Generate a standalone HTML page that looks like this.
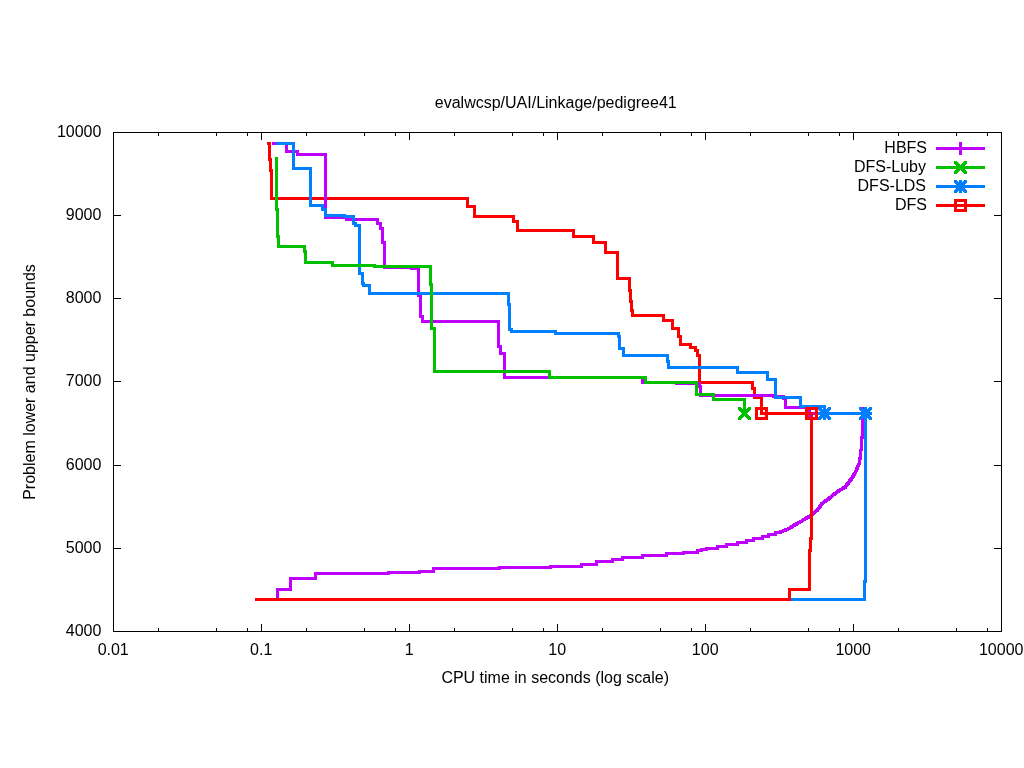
<!DOCTYPE html><html><head><meta charset="utf-8"><title>evalwcsp/UAI/Linkage/pedigree41</title>
<style>html,body{margin:0;padding:0;background:#fff}svg{display:block;will-change:transform}text{font-family:"Liberation Sans",Arial,sans-serif;font-size:16px;fill:#000}</style></head><body>
<svg width="1024" height="768" viewBox="0 0 1024 768">
<rect width="1024" height="768" fill="#fff"/>
<g stroke="#000" stroke-width="1" fill="none" stroke-linecap="butt" shape-rendering="crispEdges">
<path d="M113.5,631v-7M113.5,133v7"/>
<path d="M158.5,631v-3M158.5,133v3"/>
<path d="M216.5,631v-3M216.5,133v3"/>
<path d="M247.5,631v-3M247.5,133v3"/>
<path d="M261.5,631v-7M261.5,133v7"/>
<path d="M306.5,631v-3M306.5,133v3"/>
<path d="M364.5,631v-3M364.5,133v3"/>
<path d="M395.5,631v-3M395.5,133v3"/>
<path d="M409.5,631v-7M409.5,133v7"/>
<path d="M454.5,631v-3M454.5,133v3"/>
<path d="M512.5,631v-3M512.5,133v3"/>
<path d="M543.5,631v-3M543.5,133v3"/>
<path d="M557.5,631v-7M557.5,133v7"/>
<path d="M602.5,631v-3M602.5,133v3"/>
<path d="M660.5,631v-3M660.5,133v3"/>
<path d="M691.5,631v-3M691.5,133v3"/>
<path d="M705.5,631v-7M705.5,133v7"/>
<path d="M750.5,631v-3M750.5,133v3"/>
<path d="M808.5,631v-3M808.5,133v3"/>
<path d="M839.5,631v-3M839.5,133v3"/>
<path d="M853.5,631v-7M853.5,133v7"/>
<path d="M898.5,631v-3M898.5,133v3"/>
<path d="M956.5,631v-3M956.5,133v3"/>
<path d="M987.5,631v-3M987.5,133v3"/>
<path d="M1001.5,631v-7M1001.5,133v7"/>
<path d="M114,132.5h7M1001,132.5h-7"/>
<path d="M114,215.5h7M1001,215.5h-7"/>
<path d="M114,298.5h7M1001,298.5h-7"/>
<path d="M114,381.5h7M1001,381.5h-7"/>
<path d="M114,465.5h7M1001,465.5h-7"/>
<path d="M114,548.5h7M1001,548.5h-7"/>
<path d="M114,631.5h7M1001,631.5h-7"/>
</g>
<text x="101.4" y="137" text-anchor="end">10000</text>
<text x="101.4" y="220" text-anchor="end">9000</text>
<text x="101.4" y="303" text-anchor="end">8000</text>
<text x="101.4" y="386" text-anchor="end">7000</text>
<text x="101.4" y="470" text-anchor="end">6000</text>
<text x="101.4" y="553" text-anchor="end">5000</text>
<text x="101.4" y="636" text-anchor="end">4000</text>
<text x="113.2" y="655" text-anchor="middle">0.01</text>
<text x="261.2" y="655" text-anchor="middle">0.1</text>
<text x="409.2" y="655" text-anchor="middle">1</text>
<text x="557.2" y="655" text-anchor="middle">10</text>
<text x="705.2" y="655" text-anchor="middle">100</text>
<text x="853.2" y="655" text-anchor="middle">1000</text>
<text x="1001.2" y="655" text-anchor="middle">10000</text>
<text x="555.75" y="107.5" text-anchor="middle">evalwcsp/UAI/Linkage/pedigree41</text>
<text x="555.2" y="682.7" text-anchor="middle">CPU time in seconds (log scale)</text>
<text transform="translate(35,382) rotate(-90)" text-anchor="middle">Problem lower and upper bounds</text>
<g fill="none" stroke-width="3" stroke-linejoin="miter" stroke-linecap="butt" shape-rendering="crispEdges">
<path d="M267,143.5 H269 V159 H270 V170.5 H271.5 V198.5 H467.5 V206.5 H474.5 V216.5 H513.5 V221.5 H517.5 V230.5 H573.5 V236.5 H593.5 V242.5 H605.5 V252.5 H617.5 V278.5 H629.5 V290 H630.5 V301.5 H631.5 V310 H632.5 V315.5 H663.5 V320.5 H672.5 V328.5 H678.5 V336.5 H680.5 V344.5 H690.5 V347 H695.5 V350.5 H697.5 V355.5 H699.5 V382.5 H752.5 V388.5 H754.5 V397.5 H761.5 V413.5 H811.5" stroke="#ff0000"/>
<path d="M272,143.5 H286.5 V151 H297 V154.5 H325.5 V217.5 H346.5 V219.5 H377.5 V223.5 H380.5 V228.5 H382.5 V242.5 H384.5 V267.5 H411 V268.5 H418.5 V295.5 H420.5 V316.5 H422.5 V321.5 H498.5 V346.5 H500.5 V353.5 H504.5 V377.5 H642.5 V382.5 H676.5 V383.5 H699.5 V386 H700.5 V395.5 H773.5 V396.5 H783.5 V398.5 H785.5 V407.5 H809 V413.5 H863" stroke="#c000ff"/>
<path d="M276,143.5 H293.5 V168.5 H310.5 V205.5 H322.5 V209.5 H325.5 V215.5 H344.5 V216.5 H353.5 V223 H355.5 V225 H359.5 V273.5 H362.5 V283 H363.5 V285.5 H369 V293.5 H508.5 V304 H509.5 V329.5 H511.5 V331.5 H555.5 V333.5 H618.5 V336 H619.5 V348.5 H623.5 V355.5 H667.5 V361 H668.5 V367.5 H737.5 V372.5 H767.5 V379.5 H775.5 V397.5 H800.5 V406.5 H824.5 V413.5 H865.5" stroke="#0080ff"/>
<path d="M276.5,157 V209.5 H277.5 V236 H278.5 V246.5 H304.5 V251 H305.5 V262.5 H332.5 V265.5 H374 V266.5 H430.5 V284 H431.5 V328.5 H434.5 V371.5 H549.5 V377.5 H645.5 V382.5 H696.5 V394.5 H713.5 V399.5 H744.5 V413.5" stroke="#00c000"/>
<path d="M277.5,599.5 V589.5 H290.5 V578.5 H315.5 V573.5 H388.5 V572.3 H419.5 V571.3 H433.5 V568.5 H499.5 V567.5 H550.5 V566.5 H581 V564.5 H596.5 V561.5 H612.5 V559.5 H622.5 V557 H642.5 V555.5 H666.5 V553.5 H683.5 V552.3 H697.5 V550.3 H701.5 V549.2 H706.5 V548 H717.5 V546.5 H726.5 V544.5 H737.5 V542.5 H746 V540.3 H753 V538.3 H762.5 V536.3 H768.5 V534 H775.5 V532.3 H780" stroke="#c000ff"/>
<path d="M779,531h3v3h-3zM779,530h3v3h-3zM780,530h3v3h-3zM781,530h3v3h-3zM782,529h3v3h-3zM783,529h3v3h-3zM784,529h3v3h-3zM784,528h3v3h-3zM785,528h3v3h-3zM786,528h3v3h-3zM787,527h3v3h-3zM788,527h3v3h-3zM789,526h3v3h-3zM790,526h3v3h-3zM790,525h3v3h-3zM791,525h3v3h-3zM792,524h3v3h-3zM793,524h3v3h-3zM793,523h3v3h-3zM794,523h3v3h-3zM795,523h3v3h-3zM795,522h3v3h-3zM796,522h3v3h-3zM797,521h3v3h-3zM798,521h3v3h-3zM799,520h3v3h-3zM800,520h3v3h-3zM801,519h3v3h-3zM802,518h3v3h-3zM803,518h3v3h-3zM804,517h3v3h-3zM805,517h3v3h-3zM805,516h3v3h-3zM806,516h3v3h-3zM807,516h3v3h-3zM807,515h3v3h-3zM808,515h3v3h-3zM809,514h3v3h-3zM810,514h3v3h-3zM810,513h3v3h-3zM811,513h3v3h-3zM811,512h3v3h-3zM812,512h3v3h-3zM812,511h3v3h-3zM813,511h3v3h-3zM814,510h3v3h-3zM815,509h3v3h-3zM816,509h3v3h-3zM816,508h3v3h-3zM817,507h3v3h-3zM818,506h3v3h-3zM818,505h3v3h-3zM819,505h3v3h-3zM819,504h3v3h-3zM820,503h3v3h-3zM820,502h3v3h-3zM821,502h3v3h-3zM822,501h3v3h-3zM823,500h3v3h-3zM824,500h3v3h-3zM824,499h3v3h-3zM825,499h3v3h-3zM826,498h3v3h-3zM827,498h3v3h-3zM827,497h3v3h-3zM828,497h3v3h-3zM828,496h3v3h-3zM829,496h3v3h-3zM830,495h3v3h-3zM831,494h3v3h-3zM832,493h3v3h-3zM833,493h3v3h-3zM833,492h3v3h-3zM834,492h3v3h-3zM835,491h3v3h-3zM836,490h3v3h-3zM837,490h3v3h-3zM837,489h3v3h-3zM838,489h3v3h-3zM839,488h3v3h-3zM840,488h3v3h-3zM841,487h3v3h-3zM842,487h3v3h-3zM842,486h3v3h-3zM843,486h3v3h-3zM844,486h3v3h-3zM844,485h3v3h-3zM845,484h3v3h-3zM845,483h3v3h-3zM846,483h3v3h-3zM846,482h3v3h-3zM847,482h3v3h-3zM847,481h3v3h-3zM848,480h3v3h-3zM848,479h3v3h-3zM849,479h3v3h-3zM849,478h3v3h-3zM850,478h3v3h-3zM850,477h3v3h-3zM851,476h3v3h-3zM851,475h3v3h-3zM852,475h3v3h-3zM852,474h3v3h-3zM852,473h3v3h-3zM853,473h3v3h-3zM853,472h3v3h-3zM854,471h3v3h-3zM854,470h3v3h-3zM855,469h3v3h-3zM855,468h3v3h-3zM855,467h3v3h-3zM856,467h3v3h-3zM856,466h3v3h-3zM856,465h3v3h-3zM857,464h3v3h-3zM857,463h3v3h-3zM858,462h3v3h-3zM858,461h3v3h-3zM858,460h3v3h-3zM858,459h3v3h-3zM858,458h3v3h-3zM858,457h3v3h-3zM859,457h3v3h-3zM859,456h3v3h-3zM859,455h3v3h-3zM859,454h3v3h-3zM859,453h3v3h-3zM859,452h3v3h-3zM859,451h3v3h-3zM859,450h3v3h-3zM859,449h3v3h-3zM860,448h3v3h-3zM860,447h3v3h-3zM860,446h3v3h-3zM860,445h3v3h-3zM860,444h3v3h-3zM860,443h3v3h-3zM860,442h3v3h-3zM860,441h3v3h-3zM860,440h3v3h-3zM860,439h3v3h-3zM860,438h3v3h-3zM860,437h3v3h-3zM860,436h3v3h-3zM861,436h3v3h-3zM861,435h3v3h-3zM861,434h3v3h-3zM861,433h3v3h-3zM861,432h3v3h-3zM861,431h3v3h-3zM861,430h3v3h-3zM861,429h3v3h-3zM861,428h3v3h-3zM861,427h3v3h-3zM861,426h3v3h-3zM861,425h3v3h-3zM861,424h3v3h-3zM861,423h3v3h-3zM861,422h3v3h-3zM861,421h3v3h-3zM861,420h3v3h-3zM861,419h3v3h-3zM861,418h3v3h-3zM861,417h3v3h-3zM861,416h3v3h-3zM861,415h3v3h-3zM861,414h3v3h-3zM861,413h3v3h-3zM861,412h3v3h-3zM862,412h3v3h-3z" fill="#c000ff" stroke="none"/>
<path d="M255,599.5 H864.5 V581.5 H865.5 V413.5" stroke="#0080ff"/>
<path d="M255,599.5 H789.5 V589.5 H809.5 V550 H810.5 V538.5 H811.5 V413.5" stroke="#ff0000"/>
<path d="M809,413.5H863" stroke="#c000ff"/>
<path d="M803,412h13v3h-13zM808,407h3v13h-3z" fill="#c000ff" stroke="none"/>
<path d="M857,412h13v3h-13zM862,407h3v13h-3z" fill="#c000ff" stroke="none"/>
<path d="M738,407h3v3h-3zM738,417h3v3h-3zM739,408h3v3h-3zM739,416h3v3h-3zM740,409h3v3h-3zM740,415h3v3h-3zM741,410h3v3h-3zM741,414h3v3h-3zM742,411h3v3h-3zM742,413h3v3h-3zM743,412h3v3h-3zM743,412h3v3h-3zM744,413h3v3h-3zM744,411h3v3h-3zM745,414h3v3h-3zM745,410h3v3h-3zM746,415h3v3h-3zM746,409h3v3h-3zM747,416h3v3h-3zM747,408h3v3h-3zM748,417h3v3h-3zM748,407h3v3h-3z" fill="#00c000" stroke="none"/>
<path d="M824.5,413.5H865.5" stroke="#0080ff"/>
<path d="M818,412h13v3h-13zM823,407h3v13h-3z" fill="#0080ff" stroke="none"/><path d="M818,407h3v3h-3zM818,417h3v3h-3zM819,408h3v3h-3zM819,416h3v3h-3zM820,409h3v3h-3zM820,415h3v3h-3zM821,410h3v3h-3zM821,414h3v3h-3zM822,411h3v3h-3zM822,413h3v3h-3zM823,412h3v3h-3zM823,412h3v3h-3zM824,413h3v3h-3zM824,411h3v3h-3zM825,414h3v3h-3zM825,410h3v3h-3zM826,415h3v3h-3zM826,409h3v3h-3zM827,416h3v3h-3zM827,408h3v3h-3zM828,417h3v3h-3zM828,407h3v3h-3z" fill="#0080ff" stroke="none"/>
<path d="M859,412h13v3h-13zM864,407h3v13h-3z" fill="#0080ff" stroke="none"/><path d="M859,407h3v3h-3zM859,417h3v3h-3zM860,408h3v3h-3zM860,416h3v3h-3zM861,409h3v3h-3zM861,415h3v3h-3zM862,410h3v3h-3zM862,414h3v3h-3zM863,411h3v3h-3zM863,413h3v3h-3zM864,412h3v3h-3zM864,412h3v3h-3zM865,413h3v3h-3zM865,411h3v3h-3zM866,414h3v3h-3zM866,410h3v3h-3zM867,415h3v3h-3zM867,409h3v3h-3zM868,416h3v3h-3zM868,408h3v3h-3zM869,417h3v3h-3zM869,407h3v3h-3z" fill="#0080ff" stroke="none"/>
<path d="M761.5,413.5H813" stroke="#ff0000"/>
<rect x="756.5" y="408.5" width="10" height="10" stroke="#ff0000"/>
<rect x="806.5" y="408.5" width="10" height="10" stroke="#ff0000"/>
<path d="M936,148.5H985" stroke="#c000ff"/>
<path d="M954,147h13v3h-13zM959,142h3v13h-3z" fill="#c000ff" stroke="none"/>
<path d="M936,167.5H985" stroke="#00c000"/>
<path d="M954,161h3v3h-3zM954,171h3v3h-3zM955,162h3v3h-3zM955,170h3v3h-3zM956,163h3v3h-3zM956,169h3v3h-3zM957,164h3v3h-3zM957,168h3v3h-3zM958,165h3v3h-3zM958,167h3v3h-3zM959,166h3v3h-3zM959,166h3v3h-3zM960,167h3v3h-3zM960,165h3v3h-3zM961,168h3v3h-3zM961,164h3v3h-3zM962,169h3v3h-3zM962,163h3v3h-3zM963,170h3v3h-3zM963,162h3v3h-3zM964,171h3v3h-3zM964,161h3v3h-3z" fill="#00c000" stroke="none"/>
<path d="M936,186.5H985" stroke="#0080ff"/>
<path d="M954,185h13v3h-13zM959,180h3v13h-3z" fill="#0080ff" stroke="none"/><path d="M954,180h3v3h-3zM954,190h3v3h-3zM955,181h3v3h-3zM955,189h3v3h-3zM956,182h3v3h-3zM956,188h3v3h-3zM957,183h3v3h-3zM957,187h3v3h-3zM958,184h3v3h-3zM958,186h3v3h-3zM959,185h3v3h-3zM959,185h3v3h-3zM960,186h3v3h-3zM960,184h3v3h-3zM961,187h3v3h-3zM961,183h3v3h-3zM962,188h3v3h-3zM962,182h3v3h-3zM963,189h3v3h-3zM963,181h3v3h-3zM964,190h3v3h-3zM964,180h3v3h-3z" fill="#0080ff" stroke="none"/>
<path d="M936,205.5H985" stroke="#ff0000"/>
<rect x="955.5" y="200.5" width="10" height="10" stroke="#ff0000"/>
</g>
<text x="927" y="152.5" text-anchor="end">HBFS</text>
<text x="926" y="171.5" text-anchor="end">DFS-Luby</text>
<text x="926" y="190.5" text-anchor="end">DFS-LDS</text>
<text x="927" y="209.5" text-anchor="end">DFS</text>
<rect x="113.5" y="132.5" width="888.0" height="499.0" fill="none" stroke="#000" stroke-width="1" shape-rendering="crispEdges"/>
</svg></body></html>
